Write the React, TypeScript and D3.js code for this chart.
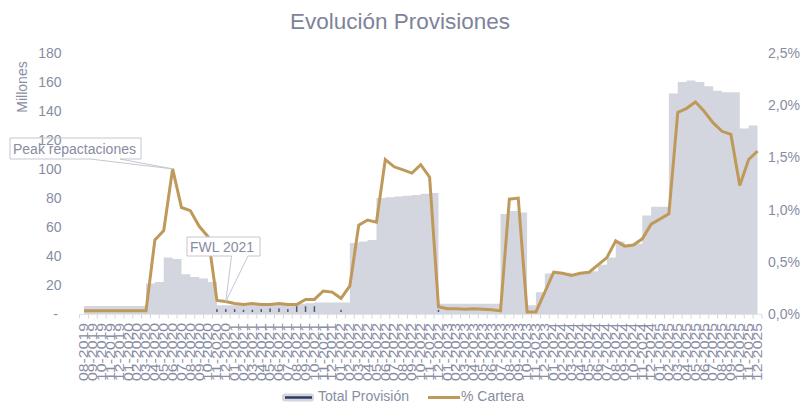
import React from "react";
import * as d3 from "d3";

// ---------- DATA ----------
const months: string[] = [
  "08-2019","09-2019","10-2019","11-2019","12-2019",
  "01-2020","02-2020","03-2020","04-2020","05-2020","06-2020","07-2020","08-2020","09-2020","10-2020","11-2020","12-2020",
  "01-2021","02-2021","03-2021","04-2021","05-2021","06-2021","07-2021","08-2021","09-2021","10-2021","11-2021","12-2021",
  "01-2022","02-2022","03-2022","04-2022","05-2022","06-2022","07-2022","08-2022","09-2022","10-2022","11-2022","12-2022",
  "01-2023","02-2023","03-2023","04-2023","05-2023","06-2023","07-2023","08-2023","09-2023","10-2023","11-2023","12-2023",
  "01-2024","02-2024","03-2024","04-2024","05-2024","06-2024","07-2024","08-2024","09-2024","10-2024","11-2024","12-2024",
  "01-2025","02-2025","03-2025","04-2025","05-2025","06-2025","07-2025","08-2025","09-2025","10-2025","11-2025","12-2025",
];

// Total Provisión (millones)
const totalProvision: number[] = [
  5.5, 5.5, 5.5, 5.5, 5.5,
  5.5, 5.5, 21, 22, 39, 38, 27.5, 25.5, 24.5, 22, 6, 6,
  6, 6, 6.5, 6.5, 6.5, 7, 7, 7, 7.5, 8, 8, 8,
  8, 49, 50, 51, 80, 80.5, 81, 81.5, 82, 83, 83.5, 7,
  7, 7, 7, 7, 7, 7, 69, 71, 70, 6, 15, 28,
  29, 28.5, 27.5, 28.5, 29.5, 34, 39, 50, 48, 48.5, 68, 74,
  74, 152, 160, 161, 160, 157, 154, 153, 153, 128, 130, 131,
];

// % Cartera
const pctCartera: number[] = [
  0.03, 0.03, 0.03, 0.03, 0.03,
  0.03, 0.03, 0.03, 0.71, 0.80, 1.39, 1.02, 0.99, 0.84, 0.74, 0.13, 0.12,
  0.10, 0.09, 0.10, 0.09, 0.09, 0.10, 0.09, 0.09, 0.14, 0.14, 0.22, 0.21,
  0.15, 0.27, 0.85, 0.90, 0.88, 1.48, 1.41, 1.38, 1.35, 1.43, 1.31, 0.07,
  0.05, 0.05, 0.045, 0.05, 0.045, 0.04, 0.03, 1.10, 1.11, 0.02, 0.02, 0.21,
  0.40, 0.39, 0.37, 0.39, 0.40, 0.47, 0.54, 0.70, 0.65, 0.66, 0.72, 0.86,
  0.91, 0.96, 1.93, 1.97, 2.03, 1.94, 1.83, 1.75, 1.72, 1.23, 1.48, 1.56,
];

// small dark marks (millones)
const darkMarks: number[] = [
  0, 0, 0, 0, 0,
  0, 0, 0, 0, 0, 0, 0, 0, 0, 0, 2, 2,
  2, 1.5, 1.5, 2, 2.5, 2.5, 2, 4, 4, 4, 0, 0,
  1.5, 0, 0, 0, 0, 0, 0, 0, 0, 0, 0, 1.5,
  0, 0, 0, 0, 0, 0, 0, 0, 0, 0, 0, 0,
  0, 0, 0, 0, 0, 0, 0, 0, 0, 0, 0, 0,
  0, 0, 0, 0, 0, 0, 0, 0, 0, 0, 0, 0,
];

const leftTicks: number[] = [0, 20, 40, 60, 80, 100, 120, 140, 160, 180];
const rightTicks: number[] = [0, 0.5, 1.0, 1.5, 2.0, 2.5];

const TITLE = "Evolución Provisiones";
const Y_LABEL = "Millones";
const SERIES_AREA = "Total Provisión";
const SERIES_LINE = "% Cartera";
const NOTE_PEAK = "Peak repactaciones";
const NOTE_FWL = "FWL 2021";

// ---------- STYLE ----------
const FONT = "'Liberation Sans', Arial, sans-serif";
const TXT = "#878da2";
const GOLD = "#bf995a";
const AREA = "#d3d6df";
const NAVY = "#2f3a63";
const CALLOUT = "#c3c7d1";

export default function App() {
  const W = 800, H = 403;
  const x = d3.scalePoint<string>().domain(months).range([84, 757.5]);
  const step = x.step();
  const yL = d3.scaleLinear().domain([0, 180]).range([314, 53]);
  const yR = d3.scaleLinear().domain([0, 2.5]).range([314, 53]);

  const idx = months.map((_, i) => i);
  const areaGen = d3
    .area<number>()
    .x((i) => x(months[i])!)
    .y0(yL(0))
    .y1((i) => yL(totalProvision[i]))
    .curve(d3.curveStepAfter);
  const lineGen = d3
    .line<number>()
    .x((i) => x(months[i])!)
    .y((i) => yR(pctCartera[i]));

  const fmtPct = (v: number) => v.toFixed(1).replace(".", ",") + "%";

  const peakI = 10;
  const peakX = x(months[peakI])!;
  const peakY = yR(pctCartera[peakI]);
  const fwlI = 16;
  const fwlX = x(months[fwlI])!;
  const fwlY = yR(pctCartera[fwlI]);

  const callout = (bx: number, by: number, bw: number, bh: number, w1: number, w2: number, ax: number, ay: number) =>
    `M${bx},${by} H${bx + bw} V${by + bh} H${w2} L${ax},${ay} L${w1},${by + bh} H${bx} Z`;

  return (
    <svg
      width={W}
      height={H}
      style={{ position: "absolute", left: 0, top: 0, background: "#fff" }}
      fontFamily={FONT}
    >
      <text x={400} y={29} textAnchor="middle" fontSize={22.5} fill="#7d8399">
        {TITLE}
      </text>

      <text transform={`translate(27,87) rotate(-90)`} textAnchor="middle" fontSize={14} fill={TXT}>
        {Y_LABEL}
      </text>

      {leftTicks.map((t) => (
        <text key={"l" + t} x={t === 0 ? 58 : 61.5} y={yL(t) + 5} textAnchor="end" fontSize={14} fill={TXT}>
          {t === 0 ? "-" : String(t)}
        </text>
      ))}
      {rightTicks.map((t) => (
        <text key={"r" + t} x={768} y={yR(t) + 5} textAnchor="start" fontSize={14} fill={TXT}>
          {fmtPct(t)}
        </text>
      ))}

      <path d={areaGen(idx) || ""} fill={AREA} />

      {darkMarks.map((v, i) =>
        v > 0 ? (
          <rect
            key={"m" + i}
            x={x(months[i])! - 0.75}
            y={yL(v) - 2}
            width={1.5}
            height={yL(0) - yL(v)}
            fill={NAVY}
            opacity={0.8}
          />
        ) : null
      )}

      <line x1={x(months[0])! - step / 2} x2={x(months[months.length - 1])! + step / 2} y1={314.5} y2={314.5} stroke="#e3e5ea" strokeWidth={1} />
      {d3.range(months.length + 1).map((k) => {
        const tx = x(months[0])! - step / 2 + k * step;
        return <line key={"t" + k} x1={tx} x2={tx} y1={314.5} y2={318.5} stroke="#d4d7de" strokeWidth={1} />;
      })}

      <path d={lineGen(idx) || ""} fill="none" stroke={GOLD} strokeWidth={3} strokeLinejoin="miter" />

      {months.map((m) => (
        <text
          key={m}
          transform={`translate(${x(m)! + 4.3},323) rotate(-90)`}
          textAnchor="end"
          fontSize={12.5}
          fill={TXT}
          textLength={58}
          lengthAdjust="spacingAndGlyphs"
        >
          {m}
        </text>
      ))}

      <path d={callout(10, 138, 131, 21, 90, 120, peakX, peakY)} fill="none" stroke={CALLOUT} strokeWidth={1} />
      <text x={13} y={154} fontSize={14} fill={TXT}>{NOTE_PEAK}</text>
      <path d={callout(187, 237, 73, 19, 231.5, 248, fwlX, fwlY)} fill="#fff" stroke={CALLOUT} strokeWidth={1} />
      <text x={190} y={252} fontSize={14} fill={TXT}>{NOTE_FWL}</text>

      <rect x={282} y={393.5} width={32} height={8} rx={3} fill={AREA} />
      <line x1={285} x2={312} y1={397.5} y2={397.5} stroke={NAVY} strokeWidth={2.5} />
      <text x={318} y={401} fontSize={14} fill={TXT}>{SERIES_AREA}</text>
      <line x1={428} x2={460} y1={397.5} y2={397.5} stroke={GOLD} strokeWidth={3} />
      <text x={461} y={401} fontSize={14} fill={TXT}>{SERIES_LINE}</text>
    </svg>
  );
}
